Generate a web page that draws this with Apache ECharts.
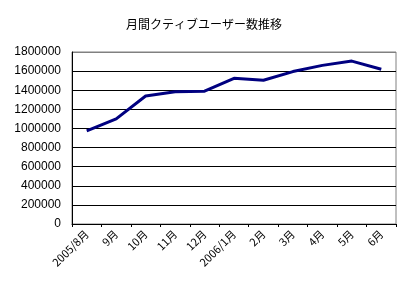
<!DOCTYPE html>
<html><head><meta charset="utf-8">
<script src="https://cdn.jsdelivr.net/npm/echarts@6/dist/echarts.min.js"></script>
<style>html,body{margin:0;padding:0;background:#fff}#c{width:408px;height:286px}</style>
</head><body><div id="c"></div>
<script>
const categories = ['2005/8月','9月','10月','11月','12月','2006/1月','2月','3月','4月','5月','6月'];
const users = [975000, 1100000, 1340000, 1385000, 1390000, 1525000, 1505000, 1595000, 1660000, 1705000, 1620000];
const yMin = 0, yMax = 1800000, yStep = 200000;
const titleText = '月間クティブユーザー数推移';

const chart = echarts.init(document.getElementById('c'), null, {renderer: 'canvas'});
const splitColors = [];
for (let v = yMin; v <= yMax; v += yStep) splitColors.push(v === yMax ? '#808080' : '#000000');
chart.setOption({
  animation: false,
  backgroundColor: '#ffffff',
  title: {
    text: titleText, left: 'center', top: 13,
    textStyle: {fontFamily: 'Noto Sans CJK JP', fontSize: 12, fontWeight: 'normal', color: '#000'}
  },
  grid: {left: 72, right: 12, top: 52, bottom: 62, show: true, borderColor: '#808080', borderWidth: 1},
  xAxis: {
    type: 'category', data: categories, boundaryGap: true,
    axisLine: {lineStyle: {color: '#000', width: 1}},
    axisTick: {show: true, length: 3, lineStyle: {color: '#000'}},
    axisLabel: {rotate: 45, fontSize: 11, fontFamily: 'Noto Sans CJK JP', color: '#000', margin: 8, interval: 0}
  },
  yAxis: {
    type: 'value', min: yMin, max: yMax, interval: yStep,
    axisLine: {show: true, lineStyle: {color: '#000', width: 1}},
    axisTick: {show: false},
    splitLine: {show: true, lineStyle: {color: splitColors, width: 1}},
    axisLabel: {fontSize: 12, fontFamily: 'Liberation Sans', color: '#000', margin: 11,
      formatter: function (v) { return String(v); }}
  },
  series: [{
    type: 'line', data: users, symbol: 'none',
    lineStyle: {color: '#000080', width: 3}
  }]
});
</script></body></html>
